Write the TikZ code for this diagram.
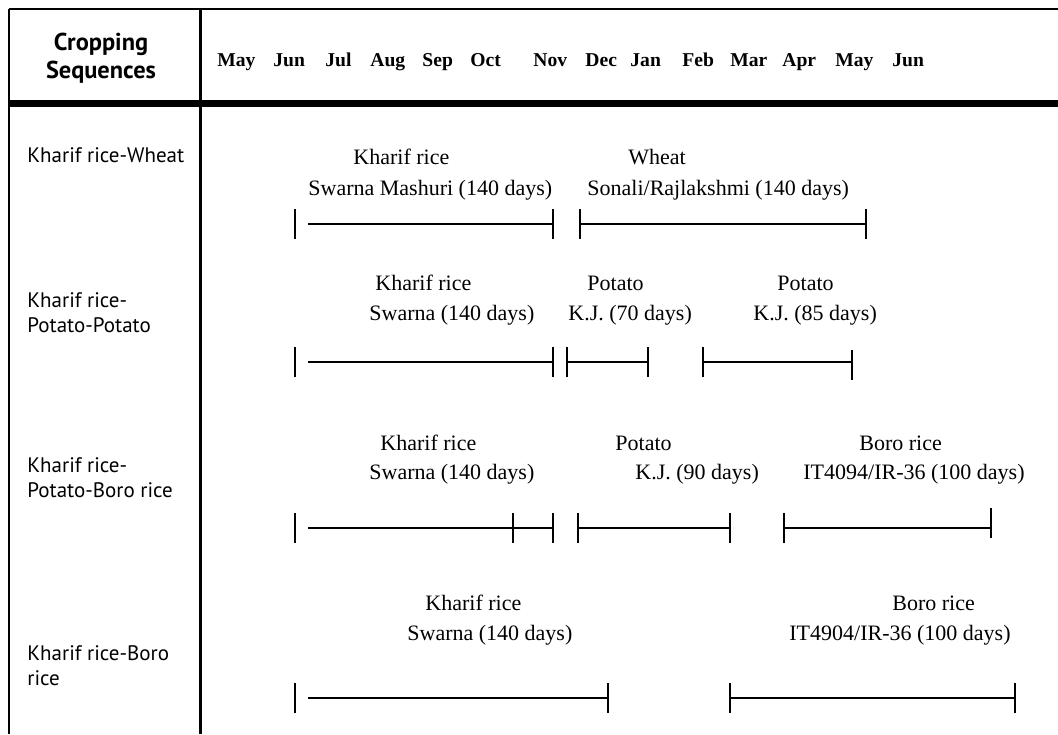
\documentclass[tikz,border=0pt]{standalone}
\usepackage{fontspec}
\setmainfont{Liberation Serif}
\newfontfamily\labfont{PT Sans}
\begin{document}
\begin{tikzpicture}[x=0.5pt,y=-0.5pt,
  frame/.style={line width=1.1pt},
  rule/.style={line width=3.3pt},
  barln/.style={line width=1.25pt},
  tickln/.style={line width=1.1pt},
  month/.style={anchor=base west,inner sep=0pt,font=\fontsize{9.8}{12}\selectfont\bfseries},
  crop/.style={anchor=base west,inner sep=0pt,font=\fontsize{11}{13}\selectfont},
  seq/.style={anchor=base west,inner sep=0pt,font=\labfont\fontsize{10.5}{13}\selectfont},
  head/.style={anchor=base,inner sep=0pt,font=\labfont\bfseries\fontsize{12.2}{14}\selectfont},
]
\useasboundingbox (0,0) rectangle (1058,734);
% frame
\draw[frame] (9,9) -- (1058,9);
\draw[frame] (9,9) -- (9,734);
\draw[frame] (200.5,9) -- (200.5,734);
\draw[rule] (9,103.5) -- (1058,103.5);
% header
\node[head] (h1) at (101,50) {Cropping};
\node[head] (h2) at (101,78) {Sequences};
\node[month] (m1) at (217,66) {May};
\node[month] (m2) at (273,66) {Jun};
\node[month] (m3) at (325,66) {Jul};
\node[month] (m4) at (370,66) {Aug};
\node[month] (m5) at (422,66) {Sep};
\node[month] (m6) at (470,66) {Oct};
\node[month] (m7) at (533,66) {Nov};
\node[month] (m8) at (585,66) {Dec};
\node[month] (m9) at (630,66) {Jan};
\node[month] (m10) at (682,66) {Feb};
\node[month] (m11) at (730,66) {Mar};
\node[month] (m12) at (782,66) {Apr};
\node[month] (m13) at (835,66) {May};
\node[month] (m14) at (892,66) {Jun};
% row labels
\node[seq] (r1) at (27,162) {Kharif rice-Wheat};
\node[seq] (r2a) at (27,307) {Kharif rice-};
\node[seq] (r2b) at (27,332) {Potato-Potato};
\node[seq] (r3a) at (27,472) {Kharif rice-};
\node[seq] (r3b) at (27,497) {Potato-Boro rice};
\node[seq] (r4a) at (27,660) {Kharif rice-Boro};
\node[seq] (r4b) at (27,685) {rice};
% row 1
\node[crop] (a1) at (353,164) {Kharif rice};
\node[crop] (a2) at (308,195) {Swarna Mashuri (140 days)};
\node[crop] (a3) at (628,164) {Wheat};
\node[crop] (a4) at (587,195) {Sonali/Rajlakshmi (140 days)};
\draw[tickln] (295,209) -- (295,239);
\draw[barln] (308,224) -- (553,224);
\draw[tickln] (553,209) -- (553,239);
\draw[tickln] (580,209) -- (580,239);
\draw[barln] (580,224) -- (866,224);
\draw[tickln] (866,209) -- (866,239);
% row 2
\node[crop] (b1) at (375,290) {Kharif rice};
\node[crop] (b2) at (369,320) {Swarna (140 days)};
\node[crop] (b3) at (587,290) {Potato};
\node[crop] (b4) at (568,320) {K.J. (70 days)};
\node[crop] (b5) at (777,290) {Potato};
\node[crop] (b6) at (753,320) {K.J. (85 days)};
\draw[tickln] (295,347) -- (295,377);
\draw[barln] (308,362) -- (553,362);
\draw[tickln] (553,347) -- (553,377);
\draw[tickln] (567,347) -- (567,377);
\draw[barln] (567,362) -- (648,362);
\draw[tickln] (648,347) -- (648,377);
\draw[tickln] (703,347) -- (703,377);
\draw[barln] (703,362) -- (852,362);
\draw[tickln] (852,350) -- (852,380);
% row 3
\node[crop] (c1) at (380,450) {Kharif rice};
\node[crop] (c2) at (369,479) {Swarna (140 days)};
\node[crop] (c3) at (615,450) {Potato};
\node[crop] (c4) at (635,479) {K.J. (90 days)};
\node[crop] (c5) at (859,450) {Boro rice};
\node[crop] (c6) at (803,479) {IT4094/IR-36 (100 days)};
\draw[tickln] (295,513) -- (295,543);
\draw[barln] (308,528) -- (553,528);
\draw[tickln] (513,513) -- (513,543);
\draw[tickln] (553,513) -- (553,543);
\draw[tickln] (578,513) -- (578,543);
\draw[barln] (578,528) -- (730,528);
\draw[tickln] (730,513) -- (730,543);
\draw[tickln] (784,513) -- (784,543);
\draw[barln] (784,528) -- (991,528);
\draw[tickln] (991,508) -- (991,538);
% row 4
\node[crop] (d1) at (425,610) {Kharif rice};
\node[crop] (d2) at (407,640) {Swarna (140 days)};
\node[crop] (d3) at (892,610) {Boro rice};
\node[crop] (d4) at (789,640) {IT4904/IR-36 (100 days)};
\draw[tickln] (295,683) -- (295,713);
\draw[barln] (308,698) -- (608,698);
\draw[tickln] (608,683) -- (608,713);
\draw[tickln] (730,683) -- (730,713);
\draw[barln] (730,698) -- (1015,698);
\draw[tickln] (1015,683) -- (1015,713);
\end{tikzpicture}
\end{document}
